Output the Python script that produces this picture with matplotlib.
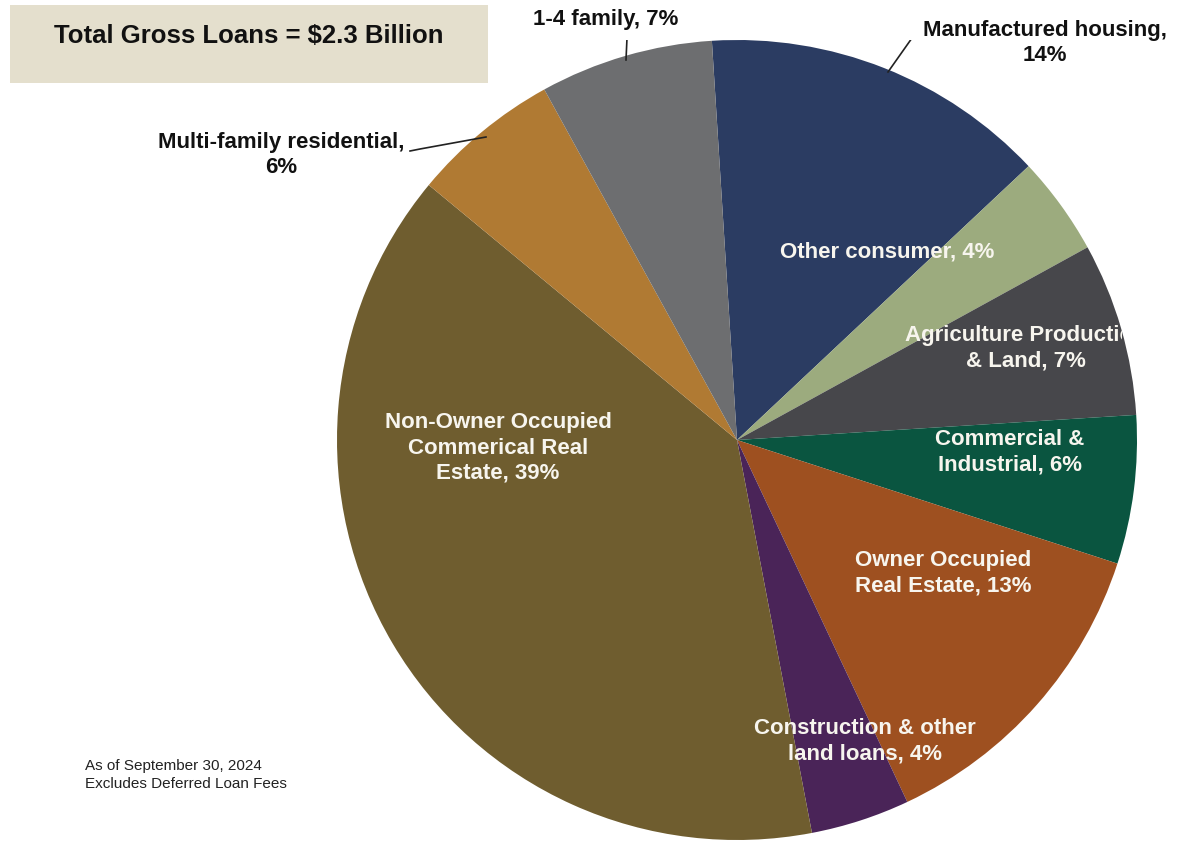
import matplotlib.pyplot as plt
from matplotlib.patches import Rectangle
from matplotlib.transforms import Bbox, TransformedBbox

plt.rcParams['font.family'] = ['Liberation Sans', 'DejaVu Sans']

# loan mix, clockwise from 12 o'clock
categories = [
    "Manufactured housing",
    "Other consumer",
    "Agriculture Production\n& Land",
    "Commercial &\nIndustrial",
    "Owner Occupied\nReal Estate",
    "Construction & other\nland loans",
    "Non-Owner Occupied\nCommerical Real\nEstate",
    "Multi-family residential",
    "1-4 family",
]
shares = [14, 4, 7, 6, 13, 4, 39, 6, 7]
colors = ["#2B3C62", "#9CAB7E", "#47474B", "#0A5540", "#9E5020",
          "#4A2458", "#6F5D2F", "#B07A33", "#6D6E70"]

W, H = 1178, 842
CX, CY, R = 737, 440, 400
FS = 16
LS = 1.27

fig = plt.figure(figsize=(W / 100, H / 100), dpi=100)
ax = fig.add_axes([(CX - R) / W, (H - CY - R) / H, 2 * R / W, 2 * R / H])
ax.pie(shares, colors=colors, startangle=93.6, counterclock=False,
       radius=1, wedgeprops=dict(linewidth=0))
ax.set_xlim(-1, 1)
ax.set_ylim(-1, 1)
ax.axis("off")


def px(x, y):
    # pixel position -> pie data coords
    return (x - CX) / R, (CY - y) / R


def lbl(i):
    return f"{categories[i]}, {shares[i]}%"


inside = {
    1: (887, 252),
    2: (1026, 348),
    3: (1010, 452),
    4: (943, 573),
    5: (865, 741),
    6: (498, 448),
}
for i, (x, y) in inside.items():
    t = ax.text(*px(x, y), lbl(i), ha="center", va="center", color="#F7F5EE",
                fontsize=FS, fontweight="bold", linespacing=LS)
    if i == 2:
        # long label gets cut off at its box edge
        t.set_clip_box(TransformedBbox(Bbox([[0, 0], [1122 / W, 1]]),
                                       fig.transFigure))
        t.set_clip_on(True)

# outside labels with leader lines
ax.text(*px(1045, 43), "Manufactured housing,\n14%", ha="center", va="center",
        fontsize=FS, fontweight="bold", color="#111111", linespacing=LS)
ax.plot(*zip(px(888, 72), px(912, 38), px(920, 38)), color="#222222", lw=1.2)

ax.text(*px(281, 155), "Multi-family residential,\n6%", ha="center", va="center",
        fontsize=FS, fontweight="bold", color="#111111", linespacing=LS)
ax.plot(*zip(px(410, 151), px(420, 149), px(486, 137)), color="#222222", lw=1.2)

ax.text(*px(606, 20), lbl(8), ha="center", va="center",
        fontsize=FS, fontweight="bold", color="#111111")
ax.plot(*zip(px(629, 34), px(627, 38), px(626, 60)), color="#222222", lw=1.2)

# title box
fig.patches.append(Rectangle((10 / W, 1 - 83 / H), 478 / W, 78 / H,
                             transform=fig.transFigure, facecolor="#E4DFCD",
                             edgecolor="none", zorder=0))
fig.text(249 / W, 1 - 36 / H, "Total Gross Loans = $2.3 Billion", ha="center",
         va="center", fontsize=18.5, fontweight="bold", color="#111111")

fig.text(85 / W, 1 - 775 / H, "As of September 30, 2024\nExcludes Deferred Loan Fees",
         ha="left", va="center", fontsize=11, color="#222222", linespacing=1.4)

fig.savefig("out.png", dpi=100)
